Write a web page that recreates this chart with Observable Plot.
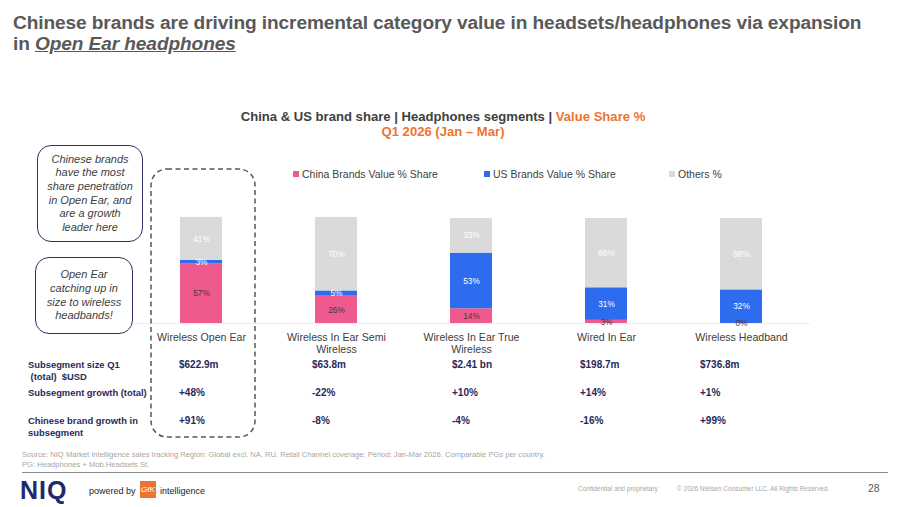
<!DOCTYPE html>
<html>
<head>
<meta charset="utf-8">
<script src="https://cdn.jsdelivr.net/npm/d3@7"></script>
<script src="https://cdn.jsdelivr.net/npm/@observablehq/plot@0.6"></script>
<style>
  html, body { margin:0; padding:0; background:#fff; }
  body { width:900px; height:507px; position:relative; overflow:hidden; font-family:"Liberation Sans", Arial, sans-serif; }
  .abs { position:absolute; }
  #title { left:13px; top:12px; font-size:19.1px; font-weight:bold; color:#595959; line-height:21px; letter-spacing:-0.1px; white-space:nowrap; }
  #title u { font-style:italic; }
  #ctitle { left:0; width:886px; top:109px; text-align:center; font-size:13.1px; font-weight:bold; color:#404040; line-height:15px; }
  #ctitle .o { color:#EE7330; }
  .legend { top:168px; font-size:10.5px; color:#404040; white-space:nowrap; }
  .legend i { display:inline-block; width:6px; height:6px; margin-right:3px; vertical-align:1px; }
  .callout { border:1.6px solid #2e3163; border-radius:14px; box-sizing:border-box; text-align:center; font-style:italic; font-size:11px; line-height:13.6px; color:#404040; display:flex; align-items:center; justify-content:center; }
  #dash { left:150px; top:168px; }
  .rowlab { left:28px; font-size:9.4px; font-weight:bold; color:#1f2a5c; line-height:11.5px; white-space:pre; }
  .val { font-size:10px; font-weight:bold; color:#1f2a5c; white-space:nowrap; }
  #source { left:22px; top:450px; font-size:7.6px; color:#a6a6a6; line-height:10px; white-space:nowrap; }
  #hr { left:22px; top:472px; width:866px; height:0; border-top:1.5px solid #8c8c8c; }
  .foot { top:485px; font-size:6.5px; color:#a6a6a6; white-space:nowrap; }
  #page { left:868px; top:482px; font-size:10.5px; color:#595959; }
  #logo { left:20px; top:476px; font-size:25px; font-weight:900; color:#1f2a6b; letter-spacing:1px; }
  #pby { left:89px; top:486px; font-size:9px; color:#222; }
  #gfk { left:140px; top:481px; width:16px; height:17px; background:#EE7330; color:#fff; font-size:8px; line-height:17px; text-align:center; font-style:italic; }
  #intel { left:160px; top:486px; font-size:9px; color:#222; }
</style>
</head>
<body>
<div id="title" class="abs">Chinese brands are driving incremental category value in headsets/headphones via expansion<br>in <u>Open Ear headphones</u></div>
<div id="ctitle" class="abs">China &amp; US brand share | Headphones segments | <span class="o">Value Share %</span><br><span class="o">Q1 2026 (Jan – Mar)</span></div>
<div id="legend"></div>
<div id="chart" class="abs" style="left:0;top:200px;"></div>
<svg id="dash" class="abs" width="108" height="272"><rect x="1" y="1" width="104" height="268" rx="16" ry="16" fill="none" stroke="#555" stroke-width="1.5" stroke-dasharray="5,3.5"/></svg>
<div class="abs callout" style="left:37px;top:145px;width:106px;height:97px;">Chinese brands<br>have the most<br>share penetration<br>in Open Ear, and<br>are a growth<br>leader here</div>
<div class="abs callout" style="left:35px;top:257px;width:98px;height:77px;">Open Ear<br>catching up in<br>size to wireless<br>headbands!</div>
<div id="table"></div>
<div id="source" class="abs">Source: NIQ Market Intelligence sales tracking Region: Global excl. NA, RU. Retail Channel coverage;  Period: Jan-Mar 2026. Comparable PGs per country.<br>PG: Headphones + Mob.Headsets St.</div>
<div id="hr" class="abs"></div>
<div id="logo" class="abs">NIQ</div>
<div id="pby" class="abs">powered by</div>
<div id="gfk" class="abs">GfK</div>
<div id="intel" class="abs">intelligence</div>
<div class="abs foot" style="left:578px;">Confidential and proprietary</div>
<div class="abs foot" style="left:677px;">© 2026 Nielsen Consumer LLC. All Rights Reserved.</div>
<div id="page" class="abs">28</div>
<script>
// ---- data ----
const categories = ["Wireless Open Ear", "Wireless In Ear Semi Wireless", "Wireless In Ear True Wireless", "Wired In Ear", "Wireless Headband"];
const categoryLabels = ["Wireless Open Ear", "Wireless In Ear Semi\nWireless", "Wireless In Ear True\nWireless", "Wired In Ear", "Wireless Headband"];
const seriesNames = ["China Brands Value % Share", "US Brands Value % Share", "Others %"];
const seriesColors = ["#EE5A8E", "#2D6BEF", "#DADADA"];
const chinaShare = [57, 26, 14, 3, 0];
const usShare = [3, 5, 53, 31, 32];
const othersShare = [41, 70, 33, 66, 68];
const rowLabels = ["Subsegment size Q1\n (total)  $USD", "Subsegment growth (total)", "Chinese brand growth in\nsubsegment"];
const subsegmentSize = ["$622.9m", "$63.8m", "$2.41 bn", "$198.7m", "$736.8m"];
const subsegmentGrowth = ["+48%", "-22%", "+10%", "+14%", "+1%"];
const chineseGrowth = ["+91%", "-8%", "-4%", "-16%", "+99%"];

// ---- layout (styles only) ----
const legendX = [293, 484, 669];
const tableColX = [179, 312, 452, 580, 700];
const tableRowY = [359, 387, 415];

const seriesValues = [chinaShare, usShare, othersShare];
const data = [];
categories.forEach((c, i) => {
  seriesNames.forEach((s, j) => data.push({cat: c, series: s, value: seriesValues[j][i]}));
});
const labelOf = new Map(categories.map((c, i) => [c, categoryLabels[i]]));

const plot = Plot.plot({
  width: 900, height: 160,
  marginLeft: 131, marginRight: 90, marginTop: 18, marginBottom: 37,
  style: {background: "transparent", fontFamily: "Liberation Sans, Arial, sans-serif"},
  x: {domain: categories, paddingInner: 0.6907, paddingOuter: 0.3454, label: null},
  y: {domain: [0, 100], axis: null},
  color: {domain: seriesNames, range: seriesColors},
  marks: [
    Plot.ruleY([0], {stroke: "#eeeeee", strokeWidth: 1.2}),
    Plot.barY(data, {x: "cat", y: "value", fill: "series"}),
    Plot.text(data, Plot.stackY({x: "cat", y: "value", text: d => d.series === seriesNames[0] ? d.value + "%" : "", fill: "#4a3440", fontSize: 8.3})),
    Plot.text(data, Plot.stackY({x: "cat", y: "value", text: d => d.series !== seriesNames[0] ? d.value + "%" : "", fill: "white", fontSize: 8.3})),
    Plot.axisX({tickSize: 0, tickPadding: 9, tickFormat: d => labelOf.get(d), fontSize: 10.6, fill: "#404040", lineHeight: 1.13, label: null})
  ]
});
document.getElementById("chart").appendChild(plot);

// legend
const lg = document.getElementById("legend");
seriesNames.forEach((s, i) => {
  const d = document.createElement("div");
  d.className = "abs legend";
  d.style.left = legendX[i] + "px";
  d.innerHTML = `<i style="background:${seriesColors[i]}"></i>${s}`;
  lg.appendChild(d);
});

// table
const tb = document.getElementById("table");
const rows = [subsegmentSize, subsegmentGrowth, chineseGrowth];
rowLabels.forEach((r, i) => {
  const d = document.createElement("div");
  d.className = "abs rowlab";
  d.style.top = tableRowY[i] + "px";
  d.textContent = r;
  tb.appendChild(d);
  rows[i].forEach((v, j) => {
    const e = document.createElement("div");
    e.className = "abs val";
    e.style.top = (tableRowY[i] - 0.5) + "px";
    e.style.left = tableColX[j] + "px";
    e.textContent = v;
    tb.appendChild(e);
  });
});
</script>
</body>
</html>
